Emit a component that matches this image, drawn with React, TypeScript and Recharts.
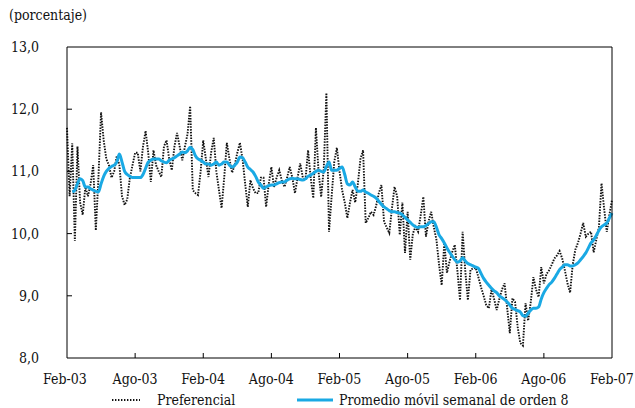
import React from 'react'
import { LineChart, Line, XAxis, YAxis, Legend } from 'recharts'

// weekly observations, Feb-03 .. Feb-07
const preferencial = [
  11.7, 10.6, 11.45, 9.88, 11.4, 10.5, 10.3, 10.75, 10.6, 10.8,
  11.1, 10.05, 10.9, 11.95, 11.5, 11.2, 11.1, 10.9, 11.0, 11.25,
  11.1, 10.6, 10.46, 10.55, 10.9, 11.1, 11.3, 11.3, 11.0, 11.4,
  11.65, 11.3, 10.83, 11.34, 11.1, 11.0, 10.91, 11.4, 11.5, 11.2,
  11.02, 11.4, 11.62, 11.4, 11.18, 11.4, 11.6, 12.05, 10.7, 10.65,
  10.62, 11.0, 11.5, 11.2, 10.91, 11.3, 11.54, 11.0, 10.7, 10.41,
  10.9, 11.46, 11.2, 10.98, 11.1, 11.3, 11.46, 11.2, 10.8, 10.43,
  10.86, 10.73, 10.65, 10.65, 10.9, 10.9, 10.43, 10.8, 11.07, 10.75,
  10.9, 11.02, 10.85, 10.75, 10.9, 11.07, 10.9, 10.65, 10.9, 11.13,
  10.9, 10.86, 11.34, 10.9, 10.57, 11.7, 11.0, 10.59, 11.05, 12.26,
  10.03, 10.6, 11.15, 11.38, 11.0, 10.7, 10.5, 10.25, 10.5, 10.7,
  10.5, 10.8, 11.2, 11.34, 10.17, 10.25, 10.35, 10.3, 10.45, 10.65,
  10.78, 10.19, 10.1, 10.01, 10.4, 10.75, 10.6, 9.98, 10.5, 9.69,
  10.35, 9.58, 10.0, 10.11, 10.03, 10.3, 10.59, 9.95, 10.2, 10.35,
  10.1, 9.9, 9.5, 9.17, 9.85, 9.37, 9.55, 9.7, 9.82, 9.4,
  8.93, 10.03, 9.4, 8.93, 9.42, 9.44, 9.45, 9.3, 9.14, 9.0,
  8.85, 8.8, 9.1, 8.95, 8.77, 8.95, 9.1, 9.2, 8.8, 8.4,
  8.96, 8.9, 8.5, 8.24, 8.2, 8.88, 8.6, 8.9, 9.3, 9.1,
  8.98, 9.46, 9.2, 9.35, 9.41, 9.5, 9.6, 9.65, 9.72, 9.6,
  9.41, 9.2, 9.05, 9.5, 9.74, 9.85, 10.0, 10.17, 9.95, 10.0,
  10.03, 9.7, 9.9, 10.1, 10.81, 10.4, 10.03, 10.3, 10.54,
]

// 8-week moving average (starts later)
const promedio = [
  null, null, 10.67, 10.7, 10.8, 10.88, 10.85, 10.75, 10.75, 10.72,
  10.7, 10.68, 10.67, 10.8, 10.92, 11.0, 11.05, 11.08, 11.1, 11.15,
  11.28, 11.15, 11.0, 10.95, 10.92, 10.9, 10.9, 10.9, 10.9, 10.95,
  11.05, 11.15, 11.18, 11.2, 11.2, 11.2, 11.17, 11.15, 11.14, 11.18,
  11.2, 11.22, 11.25, 11.28, 11.31, 11.3, 11.33, 11.39, 11.35, 11.25,
  11.2, 11.18, 11.15, 11.12, 11.12, 11.1, 11.12, 11.15, 11.1, 11.12,
  11.15, 11.15, 11.1, 11.07, 11.1, 11.15, 11.23, 11.22, 11.15, 11.07,
  11.03, 10.99, 10.92, 10.83, 10.78, 10.73, 10.75, 10.77, 10.78, 10.78,
  10.8, 10.82, 10.83, 10.83, 10.86, 10.88, 10.89, 10.88, 10.88, 10.87,
  10.86, 10.88, 10.92, 10.94, 10.97, 11.0, 11.02, 11.0, 10.99, 11.08,
  11.15, 11.02, 11.02, 11.02, 11.05, 11.07, 10.95, 10.8, 10.78, 10.83,
  10.75, 10.68, 10.68, 10.7, 10.67, 10.65, 10.62, 10.6, 10.57, 10.52,
  10.47, 10.43, 10.4, 10.37, 10.35, 10.35, 10.34, 10.33, 10.3, 10.26,
  10.22, 10.18, 10.14, 10.11, 10.1, 10.11, 10.11, 10.13, 10.16, 10.19,
  10.19, 10.1, 9.98, 9.92, 9.85, 9.77, 9.7, 9.64, 9.58, 9.54,
  9.56, 9.61, 9.56, 9.52, 9.5, 9.48, 9.46, 9.44, 9.36, 9.28,
  9.22, 9.17, 9.12, 9.08, 9.05, 9.0, 8.97, 8.94, 8.9, 8.85,
  8.8, 8.78, 8.76, 8.74, 8.68, 8.67, 8.72, 8.77, 8.8, 8.8,
  8.82, 8.95, 9.05, 9.12, 9.18, 9.22, 9.28, 9.35, 9.42, 9.46,
  9.5, 9.5, 9.48, 9.48, 9.5, 9.53, 9.58, 9.63, 9.69, 9.77,
  9.85, 9.9, 9.97, 10.05, 10.11, 10.14, 10.17, 10.25, 10.33,
]

const tickWeeks = [0, 26, 52, 78, 104, 130, 156, 182, 208]
const tickLabels = ['Feb-03', 'Ago-03', 'Feb-04', 'Ago-04', 'Feb-05', 'Ago-05', 'Feb-06', 'Ago-06', 'Feb-07']
const yTicks = [8, 9, 10, 11, 12, 13]

const FONT = '"DejaVu Serif Condensed", "DejaVu Serif", serif'
const FS = 14
const BLUE = '#1aa9e4'

const data = preferencial.map((v, i) => ({ w: i, pref: v, prom: promedio[i] }))

const LeftTick = ({ x, y, payload }: any) => (
  <g>
    {payload.value > 8 && payload.value < 13 && (
      <line x1={x} x2={x + 5} y1={y} y2={y} stroke="#000" />
    )}
    <text x={x - 28} y={y} dy="0.35em" textAnchor="end" fontSize={FS} style={{ fontFamily: FONT }} fill="#111">
      {payload.value.toFixed(1).replace('.', ',')}
    </text>
  </g>
)

const RightTick = ({ x, y, payload }: any) =>
  payload.value > 8 && payload.value < 13 ? (
    <line x1={x} x2={x - 5} y1={y} y2={y} stroke="#000" />
  ) : (
    <g />
  )

const BottomTick = ({ x, y, payload }: any) => {
  const i = tickWeeks.indexOf(payload.value)
  return (
    <g>
      {i > 0 && i < tickWeeks.length - 1 && <line x1={x} x2={x} y1={y} y2={y - 5} stroke="#000" />}
      <text x={i === 0 ? x - 2 : x} y={y + 26} textAnchor="middle" fontSize={FS} style={{ fontFamily: FONT }} fill="#111">
        {tickLabels[i]}
      </text>
    </g>
  )
}

const LegendBox = () => (
  <svg width={635} height={20} style={{ fontFamily: FONT }}>
    <line x1={112} x2={140} y1={11} y2={11} stroke="#111" strokeWidth={1.8} strokeDasharray="1.4 1.6" />
    <text x={157} y={16} fontSize={FS} fill="#111">Preferencial</text>
    <line x1={297} x2={333} y1={11} y2={11} stroke={BLUE} strokeWidth={3} />
    <text x={339} y={16} fontSize={FS} fill="#111">Promedio móvil semanal de orden 8</text>
  </svg>
)

export default function App() {
  return (
    <div style={{ position: 'absolute', left: 0, top: 0, width: 635, height: 408, background: '#fff', fontFamily: FONT }}>
      <div style={{ position: 'absolute', left: 9, top: 7, fontSize: FS, color: '#111' }}>
        (porcentaje)
      </div>
      <LineChart width={635} height={408} data={data} margin={{ top: 46, right: 22, left: 7, bottom: 0 }}>
        <XAxis
          dataKey="w"
          type="number"
          domain={[0, 208]}
          ticks={tickWeeks}
          interval={0}
          tickSize={0}
          tickMargin={0}
          tickLine={false}
          tick={<BottomTick />}
          axisLine={{ stroke: '#000' }}
          height={30}
        />
        <XAxis
          xAxisId="top"
          orientation="top"
          dataKey="w"
          type="number"
          domain={[0, 208]}
          tick={false}
          tickLine={false}
          axisLine={{ stroke: '#000' }}
          height={1}
        />
        <YAxis
          domain={[8, 13]}
          ticks={yTicks}
          interval={0}
          tickSize={0}
          tickMargin={0}
          tickLine={false}
          tick={<LeftTick />}
          axisLine={{ stroke: '#000' }}
          width={60}
        />
        <YAxis
          yAxisId="right"
          orientation="right"
          domain={[8, 13]}
          ticks={yTicks}
          interval={0}
          tickSize={0}
          tickMargin={0}
          tickLine={false}
          tick={<RightTick />}
          axisLine={{ stroke: '#000' }}
          width={1}
        />
        <Legend
          verticalAlign="bottom"
          height={20}
          content={<LegendBox />}
          wrapperStyle={{ position: 'absolute', left: 0, top: 389, width: 635, height: 20 }}
        />
        <Line
          type="linear"
          dataKey="pref"
          name="Preferencial"
          stroke="#111"
          strokeWidth={1.9}
          strokeDasharray="1.5 1.3"
          dot={false}
          isAnimationActive={false}
        />
        <Line
          type="monotone"
          dataKey="prom"
          name="Promedio móvil semanal de orden 8"
          stroke={BLUE}
          strokeWidth={3}
          dot={false}
          isAnimationActive={false}
        />
      </LineChart>
    </div>
  )
}
